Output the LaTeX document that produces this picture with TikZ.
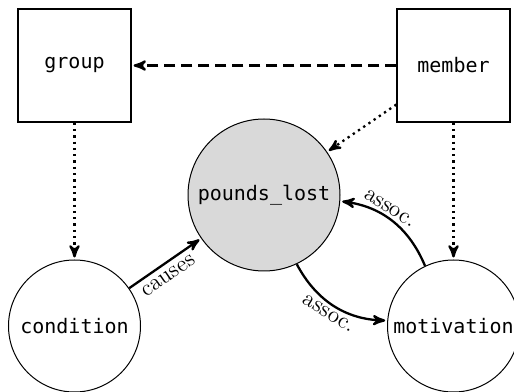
\documentclass[tikz,border=0pt]{standalone}
\usepackage{fontspec}
\setmonofont{DejaVu Sans Mono}
\usepackage{tikz}
\usetikzlibrary{arrows}

\begin{document}
\begin{tikzpicture}[>=stealth',shorten >=1pt,auto,x=0.5pt,y=0.5pt,
    box/.style={draw,line width=0.65pt,minimum size=56.5pt,inner sep=0pt,font=\ttfamily},
    var/.style={circle,draw,line width=0.5pt,inner sep=0pt,font=\ttfamily},
    lbl/.style={sloped,inner sep=1.5pt,font=\fontsize{11.5}{13}\selectfont}]
  \useasboundingbox (0,0) rectangle (514,391);
  \node[box]                            (group)      at (74.5,325.5) {group};
  \node[box]                            (member)     at (453.5,325.5) {member};
  \node[var,fill=gray!30,minimum size=76pt] (pounds) at (264,196) {pounds\_lost};
  \node[var,minimum size=66pt]          (condition)  at (74.5,65)   {condition};
  \node[var,minimum size=66pt]          (motivation) at (453.5,65)  {motivation};
  \path[->,line width=1.15pt]
    (member)
      edge [dash pattern=on 5.5pt off 3pt] (group)
      edge [dotted] (pounds)
      edge [dotted] (motivation)
    (group)
      edge [dotted] (condition)
    (condition)
      edge node[lbl,swap,inner sep=3pt,pos=0.45]{causes} (pounds)
    (pounds)
      edge [bend right=30] node[lbl,swap]{assoc.} (motivation)
    (motivation)
      edge [bend right=30] node[lbl,pos=0.58]{assoc.} (pounds)
  ;
\end{tikzpicture}
\end{document}
